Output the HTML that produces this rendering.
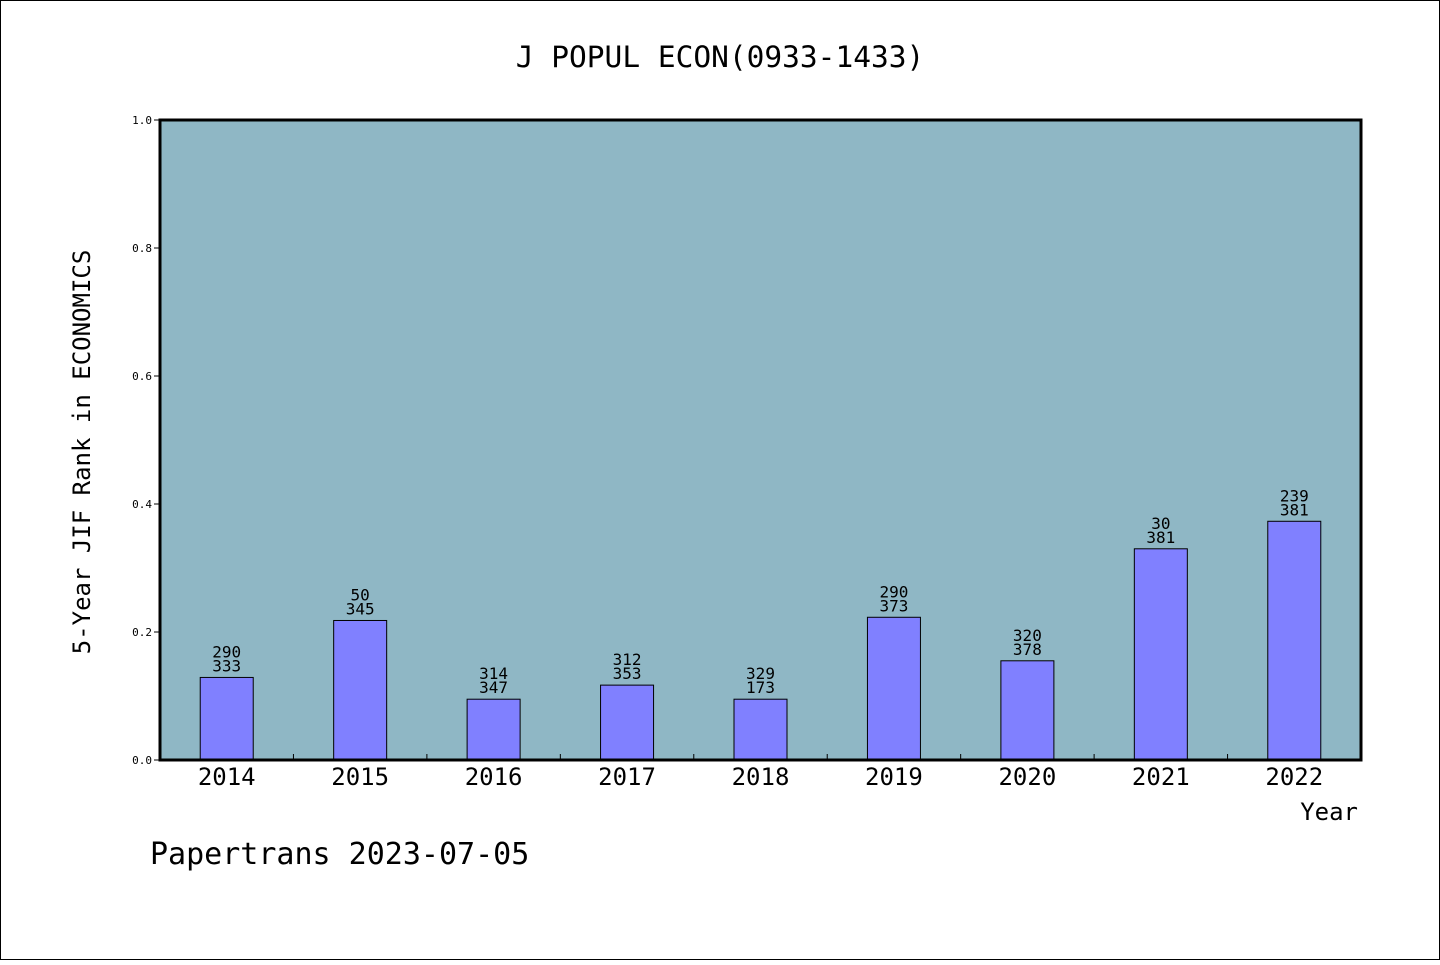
<!DOCTYPE html>
<html><head><meta charset="utf-8"><style>
body{margin:0;background:#fff}
svg text{font-family:"WenQuanYi Zen Hei Mono","WenQuanYi Zen Hei","DejaVu Sans Mono",monospace;fill:#000}
</style></head><body>
<svg id="chart" width="1440" height="960" xmlns="http://www.w3.org/2000/svg">
<rect x="0.5" y="0.5" width="1439" height="959" fill="#fff" stroke="#000"/>
<text x="720" y="67" font-size="29.5" text-anchor="middle">J POPUL ECON(0933-1433)</text>
<rect x="160" y="120" width="1201" height="640" fill="#8fb7c5"/>
<g id="bars"></g>
<rect x="160" y="120" width="1201" height="640" fill="none" stroke="#000" stroke-width="3"/>
<g id="axes"></g>
<text transform="translate(90,452) rotate(-90)" font-size="24" text-anchor="middle">5-Year JIF Rank in ECONOMICS</text>
<text x="1358" y="820" font-size="24" text-anchor="end">Year</text>
<text x="150" y="864" font-size="30">Papertrans 2023-07-05</text>
</svg>
<script>
const categories=["2014","2015","2016","2017","2018","2019","2020","2021","2022"];
const values=[0.129,0.218,0.095,0.117,0.095,0.223,0.155,0.330,0.373];
const labelTop=["290","50","314","312","329","290","320","30","239"];
const labelBottom=["333","345","347","353","173","373","378","381","381"];
const yTicks=[0,0.2,0.4,0.6,0.8,1.0];
const NS="http://www.w3.org/2000/svg";
const X0=160,W=1201,Y0=760,H=640,step=W/categories.length;
const x=i=>X0+step*(i+0.5);
const y=v=>Y0-v*H;
function mk(t,a,p){const e=document.createElementNS(NS,t);for(const k in a)e.setAttribute(k,a[k]);p.appendChild(e);return e;}
const bars=document.getElementById('bars'),axes=document.getElementById('axes');
categories.forEach((c,i)=>{
  const r=mk('rect',{x:x(i)-26.5,y:y(values[i]),width:53,height:Y0-y(values[i]),fill:'#8080ff',stroke:'#000','stroke-width':1},bars);
  
  
  const t1=mk('text',{x:x(i),y:y(values[i])-20,'font-size':16,'text-anchor':'middle'},bars);t1.textContent=labelTop[i];
  
  
  const t2=mk('text',{x:x(i),y:y(values[i])-6,'font-size':16,'text-anchor':'middle'},bars);t2.textContent=labelBottom[i];
  
  
  const xl=mk('text',{x:x(i),y:785,'font-size':24,'text-anchor':'middle'},axes);xl.textContent=c;
  
  
  if(i>0){const tk=mk('line',{x1:X0+step*i,x2:X0+step*i,y1:Y0,y2:Y0-6,stroke:'#000'},axes);
  
  }
});
yTicks.forEach(v=>{
  const tk=mk('line',{x1:X0-6,x2:X0,y1:y(v),y2:y(v),stroke:'#000'},axes);
  
  
  const tl=mk('text',{x:152,y:y(v)+4,'font-size':11,'text-anchor':'end'},axes);tl.textContent=v.toFixed(1);
  
  
});
</script>
</body></html>
